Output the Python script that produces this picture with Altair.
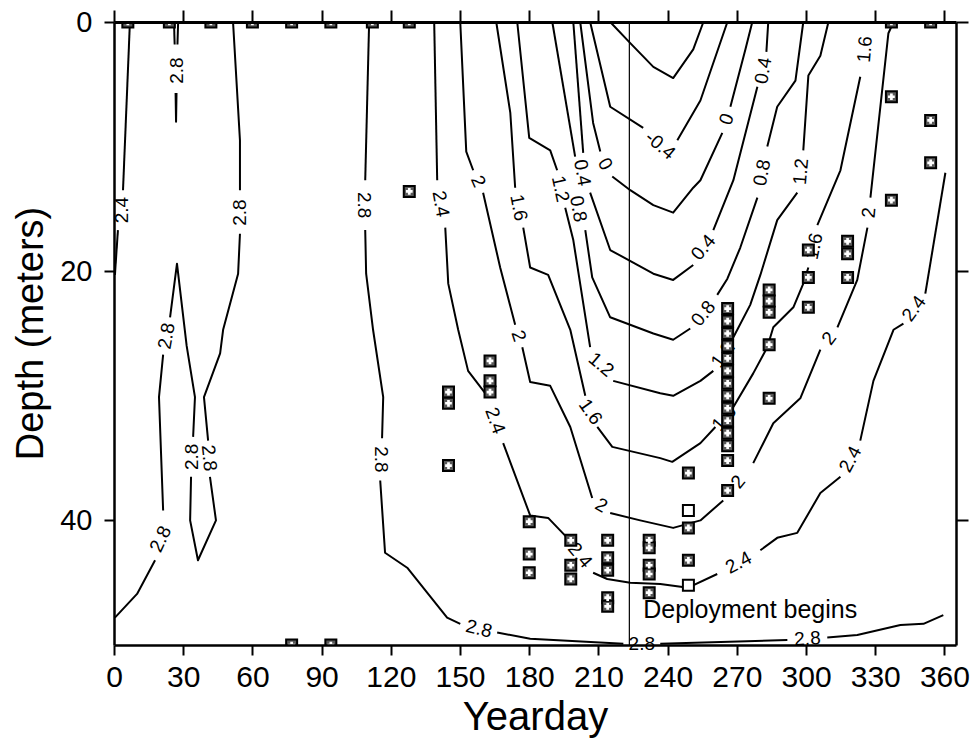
import altair as alt
import pandas as pd

FONT = "Liberation Sans"

# ---------------- contour paths (yearday, depth); one list per contour, broken where labels sit
c24_west = [
    [(6.9, 0.0), (3.9, 13.5)],
    [(1.7, 16.7), (0.4, 20.3)],
]
c28_spike = [
    [(26.0, 0.0), (26.3, 1.8)],
    [(27.8, 0.0), (27.5, 1.8)],
    [(26.7, 5.7), (26.9, 8.0), (27.1, 5.7)],
]
c28_west = [
    [(51.6, 0.0), (54.6, 9.5), (54.6, 13.5)],
    [(54.6, 17.0), (53.8, 20.2), (47.3, 24.7), (46.0, 26.6), (39.0, 30.1), (40.8, 33.6)],
    [(41.6, 36.5), (44.2, 40.0), (36.4, 43.2), (33.0, 40.0), (33.4, 36.5)],
    [(34.3, 33.3), (35.1, 30.1), (31.5, 26.0), (27.3, 19.4), (24.3, 23.7)],
    [(21.3, 26.7), (19.5, 30.1), (21.3, 39.2)],
    [(17.8, 43.2), (10.0, 45.9), (0.4, 47.8)],
]
c28_main = [
    [(110.6, 0.0), (108.9, 12.7)],
    [(108.9, 16.7), (109.3, 20.2), (112.3, 24.7), (116.7, 30.1), (116.2, 33.4)],
    [(115.4, 36.8), (117.5, 42.6), (127.1, 43.8), (144.4, 47.8), (150.1, 48.3)],
    [(166.1, 49.0), (180.4, 49.5), (220.8, 49.9)],
    [(236.8, 49.9), (291.9, 49.6)],
    [(309.2, 49.4), (322.2, 49.2), (340.9, 48.4), (350.9, 48.3), (359.5, 47.6)],
]
c24_main = [
    [(138.8, 0.0), (140.1, 12.7)],
    [(143.6, 16.5), (144.9, 21.0), (149.2, 24.7), (153.5, 28.0), (161.8, 30.0)],
    [(168.7, 33.8), (180.4, 39.6), (188.2, 39.8), (196.5, 41.4)],
    [(207.7, 44.2), (213.8, 44.7), (223.8, 45.0), (236.8, 45.1), (248.9, 45.4), (261.5, 44.3)],
    [(280.2, 42.4), (287.5, 41.4), (296.2, 41.0), (306.2, 37.8), (314.9, 36.5)],
    [(323.5, 33.6), (329.2, 28.8), (337.9, 24.7), (342.2, 24.2)],
    [(351.7, 21.8), (360.4, 12.1)],
]
c20 = [
    [(150.1, 0.0), (152.7, 10.4), (155.7, 11.9)],
    [(160.0, 13.7), (167.4, 19.7), (173.9, 24.3)],
    [(177.0, 26.1), (180.4, 28.9), (189.1, 29.2), (197.8, 32.5), (207.3, 38.2)],
    [(215.1, 39.4), (228.1, 40.0), (242.4, 40.6), (254.2, 40.0), (264.1, 38.4)],
    [(277.1, 35.4), (285.8, 32.2), (297.5, 30.2), (306.2, 26.3)],
    [(313.6, 24.5), (322.2, 20.7), (326.6, 16.5)],
    [(327.9, 14.1), (335.7, 0.9), (337.9, 0.0)],
]
c16 = [
    [(165.7, 0.0), (171.8, 7.3), (173.9, 13.3)],
    [(177.4, 16.5), (180.4, 19.7), (188.2, 20.3), (197.8, 24.7), (204.3, 30.0)],
    [(209.5, 32.5), (216.0, 34.1), (236.8, 35.0), (242.0, 35.3), (254.2, 33.8), (260.7, 32.5)],
    [(268.5, 30.9), (277.1, 28.2), (283.2, 26.1), (285.8, 24.5), (294.5, 22.9), (298.8, 21.0), (301.0, 19.7)],
    [(304.9, 16.3), (314.9, 11.9), (323.5, 4.4)],
]
c12 = [
    [(174.8, 0.0), (180.0, 9.3), (189.1, 10.3), (192.1, 11.9)],
    [(195.6, 14.9), (199.1, 17.5), (206.4, 26.1)],
    [(216.4, 28.8), (236.8, 29.8), (242.4, 30.0), (254.2, 28.8), (259.8, 28.0)],
    [(268.5, 25.3), (275.8, 22.7), (280.2, 20.3), (287.5, 15.9), (296.2, 13.7)],
    [(298.8, 10.3), (301.0, 4.3), (306.2, 2.7), (309.7, 0.0)],
]
c08 = [
    [(190.0, 0.0), (199.9, 10.8)],
    [(204.3, 16.7), (207.3, 20.5), (215.1, 23.7), (233.8, 25.0), (242.4, 25.5), (249.8, 24.6)],
    [(261.5, 21.9), (265.9, 20.6), (271.5, 18.1), (278.9, 14.1)],
    [(283.2, 10.0), (287.5, 6.8), (295.4, 4.7), (298.8, 0.0)],
]
c04 = [
    [(199.1, 0.0), (203.4, 10.5)],
    [(206.4, 13.7), (215.1, 18.3), (233.8, 20.2), (242.4, 20.7), (251.1, 19.5)],
    [(259.8, 16.7), (268.5, 12.7), (278.9, 5.2)],
    [(282.8, 2.4), (283.6, 0.0)],
]
c00 = [
    [(202.1, 0.0), (207.7, 8.1), (210.8, 10.4)],
    [(216.0, 12.4), (223.8, 13.5), (233.8, 14.7), (242.4, 15.3), (251.1, 13.3), (254.2, 12.7), (263.7, 8.9)],
    [(267.2, 6.8), (273.7, 2.2), (276.7, 0.0)],
]
cm04 = [
    [(206.4, 0.0), (215.1, 6.8), (229.4, 8.5)],
    [(244.2, 9.5), (254.2, 6.3), (265.9, 0.0)],
]
cm08 = [
    [(215.1, 0.0), (223.8, 1.7), (233.8, 3.6), (242.4, 4.5), (251.1, 2.2), (255.5, 0.0)],
]

contours = {
    "2.4w": c24_west, "2.8s": c28_spike, "2.8w": c28_west, "2.8": c28_main,
    "2.4": c24_main, "2": c20, "1.6": c16, "1.2": c12, "0.8": c08,
    "0.4": c04, "0": c00, "-0.4": cm04, "-0.8": cm08,
}

# ---------------- contour labels
label_text = ["2.4", "2.8", "2.8", "2.8", "2.8", "2.8", "2.8",
              "2.8", "2.8", "2.8", "2.8", "2.8",
              "2.4", "2.4", "2.4", "2.4", "2.4", "2.4",
              "2", "2", "2", "2", "2", "2",
              "1.6", "1.6", "1.6", "1.6", "1.6",
              "1.2", "1.2", "1.2", "1.2",
              "0.8", "0.8", "0.8",
              "0.4", "0.4", "0.4",
              "0", "0", "-0.4"]
label_day = [3.5, 27.2, 54.6, 22.8, 41.2, 33.8, 20.2,
             108.5, 115.8, 158.2, 228.8, 300.6,
             141.6, 165.2, 202.0, 270.8, 319.2, 346.8,
             157.8, 175.4, 211.2, 270.6, 310.0, 327.3,
             175.4, 206.5, 264.5, 303.5, 325.5,
             193.5, 211.2, 264.0, 297.8,
             201.2, 255.5, 281.0,
             203.0, 255.5, 281.5,
             212.9, 265.6, 236.8]
label_depth = [15.1, 3.9, 15.3, 25.2, 35.0, 34.9, 41.5,
               14.7, 35.1, 48.7, 49.9, 49.5,
               14.6, 32.0, 42.8, 43.4, 35.1, 23.0,
               12.8, 25.2, 38.8, 36.9, 25.4, 15.3,
               14.9, 31.3, 31.8, 18.0, 2.2,
               13.4, 27.5, 26.7, 12.0,
               15.0, 23.4, 12.1,
               12.1, 18.1, 3.9,
               11.4, 7.8, 9.9]
label_angle = [270, 270, 270, 280, 84, 270, 295,
               90, 90, 14, 0, 357,
               80, 70, 50, 332, 298, 306,
               66, 72, 30, 309, 307, 275,
               79, 55, 310, 282, 275,
               78, 40, 305, 275,
               80, 309, 281,
               80, 310, 280,
               60, 290, 40]

# ---------------- sample positions (yearday, depth)
sample_day = ([6, 24, 42, 60, 77, 94, 112, 128, 337, 354] + [77, 94] + [128]
              + [145] * 3 + [163] * 3 + [180] * 3 + [198] * 3 + [214] * 5 + [232] * 5
              + [249] * 5 + [266] * 14 + [284] * 5 + [301] * 3 + [318] * 3
              + [337] * 2 + [354] * 2)
sample_depth = ([0] * 10 + [50, 50] + [13.6]
                + [29.7, 30.6, 35.6] + [27.2, 28.8, 29.7] + [40.1, 42.7, 44.2]
                + [41.6, 43.6, 44.7] + [41.6, 43.0, 44.0, 46.2, 46.9]
                + [41.6, 42.2, 43.6, 44.3, 45.8]
                + [36.2, 39.2, 40.6, 43.2, 45.2]
                + [23, 24, 25, 26, 27, 28, 29, 30, 31, 32, 33, 34, 35.2, 37.6]
                + [21.5, 22.4, 23.3, 25.9, 30.2] + [18.3, 20.5, 22.9] + [17.6, 18.6, 20.5]
                + [6.0, 14.3] + [7.9, 11.3])
open_samples = [(249, 39.2), (249, 45.2)]

x_ticks = list(range(0, 361, 30))
y_ticks = [0, 20, 40]
deploy_day = [223.4]

# ---------------- tables
rows = []
sid = 0
for name, segs in contours.items():
    for seg in segs:
        for i, (d, z) in enumerate(seg):
            rows.append({"seg": f"s{sid}", "order": i, "day": d, "depth": z, "level": name})
        sid += 1
line_df = pd.DataFrame(rows)
lab_df = pd.DataFrame({"text": label_text, "day": label_day, "depth": label_depth,
                       "angle": [a % 360 for a in label_angle]})
sq_df = pd.DataFrame({"day": sample_day, "depth": sample_depth})
sq_df["kind"] = ["open" if (d, z) in open_samples else "filled"
                 for d, z in zip(sq_df.day, sq_df.depth)]
pat_df = sq_df[sq_df.kind == "filled"]

xs = alt.Scale(domain=[0, 365], nice=False, zero=False)
ys = alt.Scale(domain=[0, 50], nice=False, zero=False, reverse=True)

axis_common = dict(grid=False, domainColor="black", tickColor="black", labelColor="black",
                   titleColor="black", titleFontWeight="normal", tickWidth=2, zindex=1,
                   labelFont=FONT, titleFont=FONT)

x_bottom = alt.Axis(orient="bottom", values=x_ticks, tickSize=10, domainWidth=2.5,
                    labelFontSize=30, labelPadding=7, labelFlush=False,
                    labelOverlap=False, title="Yearday", titleFontSize=40,
                    titleX=421, titleY=84, titleBaseline="alphabetic", titleAlign="center",
                    **axis_common)
x_top = alt.Axis(orient="top", values=x_ticks, tickSize=12, domainWidth=3,
                 labels=False, title=None, **axis_common)
y_left = alt.Axis(orient="left", values=y_ticks, tickSize=10, domainWidth=2.5,
                  labelFontSize=29, labelPadding=12, labelOverlap=False,
                  labelFlush=False, title="Depth (meters)", titleFontSize=38,
                  titleAngle=270, titleX=-83, titleY=311, titleAlign="center",
                  titleBaseline="middle", **axis_common)
y_right = alt.Axis(orient="right", values=y_ticks, tickSize=12, domainWidth=2.5,
                   labels=False, title=None, **axis_common)

lines = alt.Chart(line_df).mark_line(color="black", strokeWidth=2, strokeJoin="round").encode(
    x=alt.X("day:Q", scale=xs, axis=x_bottom),
    y=alt.Y("depth:Q", scale=ys, axis=y_left),
    detail="seg:N",
    order="order:Q",
)

rule = alt.Chart(pd.DataFrame({"day": deploy_day})).mark_rule(color="black", strokeWidth=1.2).encode(
    x=alt.X("day:Q", scale=xs, axis=None),
)

labels = alt.Chart(lab_df).mark_text(font=FONT, fontSize=19, color="black").encode(
    x=alt.X("day:Q", scale=xs, axis=None),
    y=alt.Y("depth:Q", scale=ys, axis=None),
    text="text:N",
    angle=alt.Angle("angle:Q", scale=None),
)

squares = alt.Chart(sq_df).mark_square(size=121, stroke="black", strokeWidth=2, clip=True,
                                       opacity=1).encode(
    x=alt.X("day:Q", scale=xs, axis=x_top),
    y=alt.Y("depth:Q", scale=ys, axis=y_right),
    fill=alt.Fill("kind:N", scale=alt.Scale(domain=["filled", "open"], range=["#5a5a5a", "white"]),
                  legend=None),
)

pattern = alt.Chart(pat_df).mark_point(shape="cross", filled=True, fill="white", size=45,
                                       strokeWidth=0, opacity=1, clip=True).encode(
    x=alt.X("day:Q", scale=xs, axis=None),
    y=alt.Y("depth:Q", scale=ys, axis=None),
)

deploy_text = alt.Chart(pd.DataFrame({"day": [229.4], "depth": [47.8], "text": ["Deployment begins"]})).mark_text(
    font=FONT, fontSize=25, align="left", baseline="alphabetic", color="black").encode(
    x=alt.X("day:Q", scale=xs, axis=None),
    y=alt.Y("depth:Q", scale=ys, axis=None),
    text="text:N",
)

chart = alt.layer(lines, rule, labels, squares, pattern, deploy_text).resolve_axis(
    x="independent", y="independent"
).properties(
    width=842, height=623,
    autosize=alt.AutoSizeParams(type="none"),
    padding={"left": 114, "top": 22, "right": 16, "bottom": 102},
    background="white",
).configure_view(stroke=None)

chart.save("out.html", embed_options={"renderer": "svg", "actions": False})
